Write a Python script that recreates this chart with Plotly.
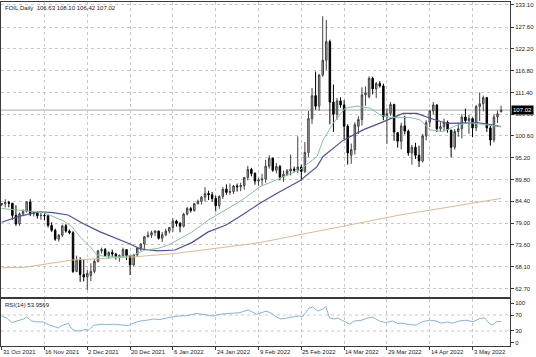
import plotly.graph_objects as go
from plotly.subplots import make_subplots

# ---------------- data ----------------
symbol_header = "FOIL,Daily  106.63 108.10 106.42 107.02"
rsi_header = "RSI(14) 53.9569"
last_price = 107.02

tick_bars = [0, 12, 24, 36, 48, 60, 72, 84, 96, 108, 120, 132]
tick_labels = ["31 Oct 2021", "16 Nov 2021", "2 Dec 2021", "20 Dec 2021", "6 Jan 2022",
               "24 Jan 2022", "9 Feb 2022", "25 Feb 2022", "14 Mar 2022", "29 Mar 2022",
               "14 Apr 2022", "3 May 2022"]

price_ticks = [62.70, 68.10, 73.60, 79.00, 84.40, 89.80, 95.20, 100.60, 106.00,
               111.40, 116.80, 122.20, 127.60, 133.10]
rsi_ticks = [0, 30, 70, 100]

opens = [83.6, 83.8, 84.1, 83.9, 80.9, 78.8, 81.3, 81.9, 84.2, 81.3,
         81.6, 80.8, 80.9, 80.8, 78.4, 77.2, 75.0, 76.0, 78.3, 77.0,
         76.6, 67.0, 69.8, 66.2, 65.6, 66.0, 67.0, 69.5, 72.1, 72.4,
         70.9, 71.7, 71.3, 70.7, 70.9, 72.4, 70.9, 68.6, 71.1, 72.8,
         73.8, 75.6, 76.0, 76.6, 77.0, 75.2, 76.1, 77.0, 77.9, 79.5,
         78.9, 78.2, 81.2, 82.6, 82.1, 83.8, 84.4, 85.4, 86.3, 86.0,
         85.1, 83.3, 85.6, 87.4, 86.6, 86.8, 88.2, 88.0, 88.3, 90.3,
         92.3, 91.3, 89.4, 89.7, 89.9, 93.1, 95.1, 92.1, 93.0, 90.4,
         91.1, 91.9, 92.4, 92.1, 92.9, 91.8, 96.5, 104.9, 110.6, 108.0,
         115.7, 119.4, 124.0, 109.0, 106.0, 109.3, 108.3, 103.0, 95.8, 97.2,
         103.0, 104.7, 110.8, 110.3, 114.9, 112.3, 113.6, 113.0, 105.4, 106.2,
         108.4, 101.4, 99.3, 103.1, 101.8, 96.4, 97.8, 95.8, 94.4, 100.6,
         104.0, 106.8, 108.3, 102.4, 102.9, 104.0, 102.0, 97.8, 101.7, 102.4,
         105.3, 104.4, 104.9, 102.6, 107.9, 108.6, 110.1, 102.6, 99.6, 105.3,
         106.63]
highs = [84.0, 84.9, 84.5, 84.0, 83.4, 81.6, 82.4, 84.4, 84.9, 82.0,
         81.9, 81.5, 81.4, 80.9, 79.2, 77.6, 76.3, 78.6, 78.8, 77.4,
         77.0, 70.9, 70.5, 69.9, 67.4, 69.0, 70.0, 72.3, 72.9, 72.8,
         72.0, 72.4, 71.6, 71.2, 72.9, 72.5, 71.0, 71.3, 72.9, 73.9,
         75.8, 76.9, 77.1, 77.2, 77.1, 76.8, 77.6, 78.0, 80.2, 79.8,
         79.3, 81.5, 83.0, 83.0, 84.0, 84.8, 85.7, 87.9, 87.0, 86.7,
         85.8, 85.9, 87.9, 88.6, 88.8, 88.4, 88.8, 89.0, 90.4, 93.2,
         92.7, 91.6, 90.2, 91.2, 94.7, 95.8, 95.2, 93.9, 93.4, 92.0,
         92.4, 96.0, 93.0, 100.5, 93.5, 99.1, 106.8, 112.5, 116.6, 116.0,
         130.3, 129.4, 124.5, 113.4, 110.0, 110.2, 109.5, 103.5, 98.7, 104.0,
         105.5, 112.7, 112.9, 115.4, 115.3, 114.0, 114.2, 113.6, 107.5, 109.0,
         108.6, 101.6, 103.9, 105.6, 102.2, 98.4, 98.9, 98.2, 101.1, 104.5,
         107.0, 109.0, 108.4, 104.0, 104.9, 104.4, 102.2, 102.3, 103.9, 106.0,
         107.4, 105.8, 105.2, 108.3, 111.4, 110.6, 110.3, 103.2, 105.9, 106.9,
         108.10]
lows = [83.2, 82.9, 82.9, 79.8, 78.3, 78.3, 80.7, 81.6, 80.7, 80.6,
        80.1, 79.8, 79.7, 77.9, 76.8, 74.6, 74.4, 75.5, 76.6, 76.2,
        66.6, 66.8, 64.4, 64.5, 62.4, 64.6, 66.5, 69.2, 71.4, 70.6,
        70.1, 70.6, 69.9, 69.4, 70.6, 69.8, 66.1, 68.4, 70.6, 72.1,
        72.6, 75.4, 75.3, 75.8, 74.9, 74.3, 75.7, 76.4, 76.8, 78.1,
        76.7, 77.9, 80.9, 81.6, 81.8, 83.6, 83.6, 84.3, 84.7, 84.3,
        81.9, 82.5, 85.0, 86.0, 86.0, 86.2, 86.8, 86.9, 87.3, 89.6,
        90.6, 88.5, 88.2, 88.3, 89.0, 92.5, 91.7, 91.3, 89.6, 89.2,
        90.7, 90.8, 91.6, 91.4, 89.5, 91.4, 95.4, 103.6, 107.1, 106.9,
        115.3, 117.0, 103.5, 101.6, 104.6, 107.6, 99.8, 93.5, 93.7, 96.0,
        101.1, 103.2, 108.1, 110.0, 110.9, 110.0, 112.6, 104.5, 98.6, 105.6,
        99.4, 97.7, 97.3, 101.0, 95.7, 93.5, 94.9, 92.9, 94.0, 99.5,
        102.8, 105.9, 101.6, 101.7, 101.8, 101.4, 95.3, 97.2, 100.4, 100.0,
        103.6, 101.1, 100.3, 101.8, 104.3, 106.7, 101.6, 98.2, 99.0, 103.8,
        106.42]
closes = [83.8, 84.1, 83.9, 80.9, 78.8, 81.3, 81.9, 84.2, 81.3, 81.6,
          80.8, 80.9, 80.8, 78.4, 77.2, 75.0, 76.0, 78.3, 77.0, 76.6,
          67.0, 69.8, 66.2, 65.6, 66.5, 67.0, 69.5, 72.1, 72.4, 70.9,
          71.7, 71.3, 70.7, 70.9, 72.4, 70.9, 68.6, 71.1, 72.8, 73.8,
          75.6, 76.0, 76.6, 77.0, 75.2, 76.1, 77.0, 77.9, 79.5, 78.9,
          78.2, 81.2, 82.6, 82.1, 83.8, 84.4, 85.4, 86.3, 86.0, 85.1,
          83.3, 85.6, 87.4, 86.6, 86.8, 88.2, 88.0, 88.3, 90.3, 92.3,
          91.3, 89.4, 89.7, 89.9, 93.1, 95.1, 92.1, 93.0, 90.4, 91.1,
          91.9, 92.4, 92.1, 92.9, 91.8, 96.5, 104.9, 110.6, 108.0, 115.7,
          119.4, 124.0, 109.0, 106.0, 109.3, 108.3, 103.0, 96.4, 97.2, 103.4,
          104.7, 110.8, 111.3, 114.9, 112.3, 113.6, 113.0, 105.4, 106.2, 108.4,
          101.6, 99.3, 103.1, 101.8, 96.4, 97.8, 95.8, 94.4, 100.6, 103.9,
          106.8, 108.3, 102.4, 102.9, 104.0, 102.2, 97.8, 101.7, 102.4, 105.3,
          104.4, 104.9, 102.6, 107.9, 108.6, 110.1, 102.6, 99.6, 105.3, 106.1,
          107.02]

# moving-average lines at bar positions
ma_fast_bars = [0, 3.7, 8.5, 11.6, 14.4, 17.2, 19.7, 22.0, 24.8, 26.7, 29.5, 33.2, 36.8,
                40.2, 43.8, 46.6, 49.4, 53.4, 57.9, 62.6, 67.4, 72.4, 80.0, 83.6, 88.4,
                90.1, 92.9, 96.3, 99.6, 103.3, 106.1, 108.9, 111.7, 114.5, 117.3, 120.1,
                123.7, 127.7, 131.3, 134.9, 140]
ma_fast_vals = [82.6, 82.3, 81.8, 81.6, 80.6, 79.6, 78.1, 75.6, 73.1, 71.1, 70.6, 70.6, 71.0,
                72.3, 72.7, 73.5, 74.8, 76.8, 79.7, 82.2, 84.7, 88.0, 90.9, 92.2, 95.5,
                99.6, 103.7, 107.5, 108.0, 107.5, 105.8, 105.2, 105.2, 105.2, 104.6, 102.1,
                101.7, 103.3, 103.9, 103.5, 102.9]

ma_mid_bars = [0, 5.1, 10.7, 14.4, 18.6, 22.8, 27.6, 32.3, 36.0, 38.8, 43.8, 48.6, 53.4,
               57.9, 62.9, 67.4, 72.4, 77.2, 83.6, 88.4, 90.1, 95.7, 101.3, 106.9, 112.5,
               116.4, 120.1, 124.9, 129.9, 133.3, 136.9, 140]
ma_mid_vals = [79.2, 80.7, 81.8, 81.6, 81.0, 78.9, 76.8, 75.2, 73.8, 72.6, 72.1, 72.3, 74.2,
               76.8, 78.5, 81.0, 83.9, 86.4, 89.5, 93.0, 95.5, 99.5, 102.1, 104.1, 106.2,
               106.2, 105.0, 103.7, 103.8, 103.9, 103.4, 102.9]

ma_slow_bars = [0, 6.3, 19.7, 36.8, 48.3, 60.1, 69.6, 73.8, 94.9, 111.7, 125.7, 140]
ma_slow_vals = [67.9, 68.0, 69.8, 70.6, 71.4, 72.7, 73.8, 74.4, 78.0, 81.0, 83.0, 85.1]

rsi_bars = [0, 1.4, 2.8, 4.2, 6.1, 7.0, 8.4, 9.8, 11.7, 13.1, 14.5, 15.9, 16.8, 18.7, 19.6,
            20.6, 22.0, 23.4, 24.3, 25.7, 27.6, 29.4, 31.3, 33.2, 35.5, 36.9, 38.8, 40.7,
            42.5, 44.4, 46.3, 48.1, 50.0, 51.9, 54.7, 56.5, 59.3, 61.2, 64.0, 66.8, 69.1,
            71.5, 73.4, 74.1, 75.5, 76.9, 78.3, 79.7, 81.6, 83.4, 84.4, 86.2, 87.2, 88.6,
            90.0, 90.9, 91.9, 93.3, 94.2, 96.1, 97.5, 98.9, 100.7, 102.6, 104.0, 105.9,
            107.7, 109.6, 111.0, 112.4, 114.3, 116.2, 118.0, 119.9, 121.8, 123.2, 125.0,
            126.4, 128.3, 130.2, 132.1, 134.0, 135.3, 136.7, 137.7, 138.6, 140]
rsi_vals = [67.7, 62.5, 51, 55, 60, 64.7, 55, 53, 52.6, 46, 42, 37.5, 43.6, 49, 36,
            30.7, 30, 33.8, 32, 43.6, 47, 46, 47, 45, 43.6, 49.6, 55, 57,
            60, 58.7, 62.5, 66, 67.7, 68.5, 73.8, 72, 67.7, 72, 73.8, 76, 82.8,
            72, 77.5, 80, 75, 66, 60, 62.5, 64.7, 67.7, 66, 87.4, 90, 79.8,
            85, 91, 62.5, 60, 62.5, 52.6, 47.3, 55, 56.4, 62.5, 64.7, 55,
            51, 55, 48.9, 49.6, 45.8, 45, 53.4, 57, 55, 49.6, 52.6,
            49.6, 55, 57, 53.4, 61, 63, 48.9, 45, 53.4, 54.0]

# ---------------- figure ----------------
bars = list(range(len(closes)))
FONT = "Tahoma, Liberation Sans, Arial, sans-serif"
FS = 6
TXT = "#222222"
GRID = "#c8c8c8"
FRAME = "#3a3a3a"

fig = make_subplots(rows=2, cols=1, shared_xaxes=True, vertical_spacing=0.0)

fig.add_trace(go.Scatter(x=ma_slow_bars, y=ma_slow_vals, mode="lines",
                         line=dict(color="#ddb98e", width=1), hoverinfo="skip",
                         showlegend=False), row=1, col=1)
fig.add_trace(go.Scatter(x=ma_mid_bars, y=ma_mid_vals, mode="lines",
                         line=dict(color="#50509a", width=1.2), hoverinfo="skip",
                         showlegend=False), row=1, col=1)
fig.add_trace(go.Scatter(x=ma_fast_bars, y=ma_fast_vals, mode="lines",
                         line=dict(color="#7fc4a0", width=1), hoverinfo="skip",
                         showlegend=False), row=1, col=1)
fig.add_trace(go.Candlestick(x=bars, open=opens, high=highs, low=lows, close=closes,
                             increasing=dict(line=dict(color="#404040", width=1),
                                             fillcolor="#b6b6b6"),
                             decreasing=dict(line=dict(color="#000000", width=1),
                                             fillcolor="#000000"),
                             whiskerwidth=0, hoverinfo="skip", showlegend=False),
              row=1, col=1)
fig.add_trace(go.Scatter(x=rsi_bars, y=rsi_vals, mode="lines",
                         line=dict(color="#86b4d8", width=1), hoverinfo="skip",
                         showlegend=False), row=2, col=1)

xcommon = dict(range=[-0.19, 142.5], tickvals=tick_bars, showticklabels=False,
               showgrid=True, gridcolor=GRID, griddash="dot", gridwidth=1,
               showline=True, mirror=True, linecolor=FRAME, linewidth=1,
               zeroline=False, rangeslider=dict(visible=False))
fig.update_layout(
    xaxis=dict(**xcommon, ticks=""),
    xaxis2=dict(**xcommon, ticks="outside", ticklen=3, tickcolor=FRAME),
    yaxis=dict(domain=[0.1424, 1.0], range=[60.64, 133.84], side="right",
               tickvals=price_ticks, ticktext=[f"{v:.2f}" for v in price_ticks],
               showgrid=True, gridcolor=GRID, griddash="dot", gridwidth=1,
               showline=True, mirror=True, linecolor=FRAME, linewidth=1,
               ticks="outside", ticklen=3, tickcolor=FRAME, zeroline=False,
               automargin=False,
               tickfont=dict(family=FONT, size=FS, color=TXT)),
    yaxis2=dict(domain=[0.0, 0.1366], range=[-7.5, 110], side="right",
                tickvals=rsi_ticks, ticktext=[str(v) for v in rsi_ticks],
                showgrid=False, showline=True, mirror=True, linecolor=FRAME, linewidth=1,
                ticks="outside", ticklen=3, tickcolor=FRAME, zeroline=False,
                automargin=False,
                tickfont=dict(family=FONT, size=FS, color=TXT)),
    width=536, height=357,
    margin=dict(l=1, r=26, t=2, b=11, autoexpand=False),
    paper_bgcolor="white", plot_bgcolor="white",
    boxgap=0.4,
    showlegend=False,
    hovermode=False,
    font=dict(family=FONT, size=FS, color=TXT),
)

shapes = [
    dict(type="line", xref="x domain", yref="y", x0=0, x1=1, y0=last_price, y1=last_price,
         line=dict(color="#a8a8a8", width=1), layer="below"),
]
for lvl in (30, 70):
    shapes.append(dict(type="line", xref="x2 domain", yref="y2", x0=0, x1=1, y0=lvl, y1=lvl,
                       line=dict(color=GRID, width=1, dash="dot"), layer="below"))
fig.update_layout(shapes=shapes)

annotations = [
    dict(text=symbol_header, x=0, xref="paper", y=1, yref="paper", xanchor="left",
         yanchor="top", xshift=2, yshift=-1, showarrow=False,
         font=dict(family=FONT, size=FS, color=TXT)),
    dict(text=rsi_header, x=0, xref="paper", y=1, yref="y2 domain", xanchor="left",
         yanchor="top", xshift=2, yshift=-1, showarrow=False,
         font=dict(family=FONT, size=FS, color=TXT)),
    dict(text=f"{last_price:.2f}", x=1, xref="paper", y=last_price, yref="y",
         xanchor="left", yanchor="middle", xshift=1, showarrow=False,
         bgcolor="#000000", borderpad=1,
         font=dict(family=FONT, size=FS, color="#ffffff")),
]
for b, lab in zip(tick_bars, tick_labels):
    annotations.append(dict(text=lab, x=b, xref="x2", y=0, yref="paper", xanchor="left",
                            yanchor="top", xshift=-1, yshift=-1, showarrow=False,
                            font=dict(family=FONT, size=FS, color=TXT)))
fig.update_layout(annotations=annotations)

fig.write_html("out.html", config={"displayModeBar": False, "staticPlot": True},
               post_script="document.body.style.margin='0px';"
               "document.body.style.overflow='hidden';")
